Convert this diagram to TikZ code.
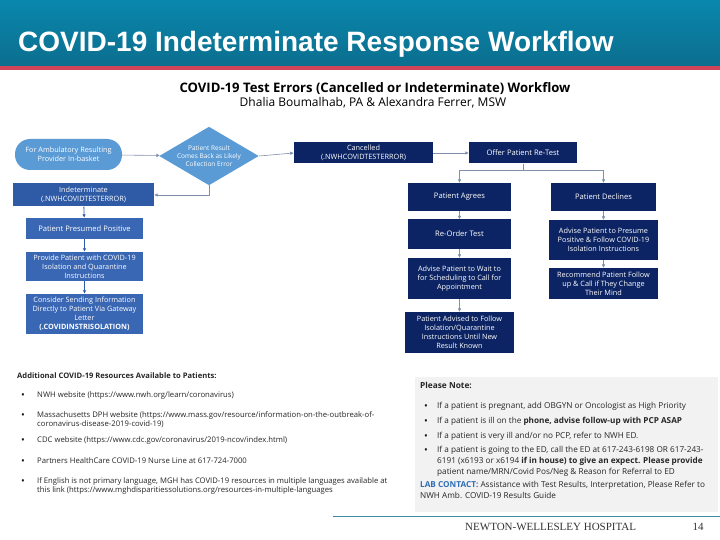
\documentclass[tikz,border=0pt]{standalone}
\usepackage{fontspec}
\setmainfont{Open Sans}
\newfontfamily\arialfont{Liberation Sans}
\newfontfamily\timesfont{Liberation Serif}
\usetikzlibrary{arrows.meta, shapes.geometric}

\definecolor{navy}{HTML}{0C2463}
\definecolor{midblue}{HTML}{3A67B4}
\definecolor{indblue}{HTML}{2F5BA6}
\definecolor{lightblue}{HTML}{5B9BD5}
\definecolor{linegray}{HTML}{8090AC}
\definecolor{tealtop}{HTML}{0A87AD}
\definecolor{tealbot}{HTML}{0B6E8E}
\definecolor{barred}{HTML}{CF4457}
\definecolor{notegray}{HTML}{F2F2F2}
\definecolor{labblue}{HTML}{2E6EB5}

\begin{document}
\begin{tikzpicture}[
    x=1pt, y=-1pt,
    % Box Styles
    box/.style={
        rectangle, inner sep=1pt, align=center, text=white,
        font=\fontsize{7.6}{9}\selectfont
    },
    navybox/.style={box, fill=navy},
    bluebox/.style={box, fill=midblue},
    oval/.style={box, fill=lightblue, rounded corners=15pt, font=\fontsize{7.3}{9}\selectfont},
    decision/.style={box, diamond, fill=lightblue, inner sep=0pt, aspect=1.7, font=\fontsize{6.5}{8}\selectfont},
    % Text Styles
    restext/.style={anchor=base west, inner sep=0pt, text=black!85, font=\fontsize{7.7}{8}\selectfont},
    notetext/.style={anchor=base west, inner sep=0pt, text=black!85, font=\fontsize{8.2}{9}\selectfont},
    dot/.style={anchor=base, inner sep=0pt, text=black!90, font=\fontsize{10}{10}\selectfont},
    % Arrow Styles
    flowArrow/.style={-{Latex[length=3.5pt, width=3.5pt]}, line width=0.6pt, draw=linegray},
    colArrow/.style={-{Latex[length=3.5pt, width=3.5pt]}, line width=0.8pt, draw=indblue}
]

    \useasboundingbox (0,0) rectangle (720,540);
    \fill[white] (0,0) rectangle (720,540);

    % --- HEADER ---
    \shade[top color=tealtop, bottom color=tealbot] (0,0) rectangle (720,66);
    \fill[barred] (0,66) rectangle (720,70);
    \node[anchor=base west, inner sep=0pt, text=white, font=\arialfont\bfseries\fontsize{28}{32}\selectfont] (title) at (18,52) {COVID-19 Indeterminate Response Workflow};

    \node[inner sep=0pt, font=\bfseries\fontsize{13.1}{15}\selectfont] (subtitle) at (375,89) {COVID-19 Test Errors (Cancelled or Indeterminate) Workflow};
    \node[inner sep=0pt, font=\fontsize{12}{14}\selectfont] (authors) at (373,103) {Dhalia Boumalhab, PA \& Alexandra Ferrer, MSW};

    % --- TOP ROW ---
    \node[oval, minimum width=107pt, minimum height=31pt] (inbox) at (68.5,154.5) {For Ambulatory Resulting\\Provider In-basket};
    \node[decision, minimum width=82pt, minimum height=48pt] (result) at (209,156) {Patient Result\\Comes Back as Likely\\Collection Error};
    \node[navybox, minimum width=139pt, minimum height=21pt, font=\fontsize{7.3}{9}\selectfont] (cancel) at (363.5,153) {Cancelled\\(.NWHCOVIDTESTERROR)};
    \node[navybox, minimum width=108pt, minimum height=21pt] (offer) at (523,153) {Offer Patient Re-Test};

    % --- INDETERMINATE COLUMN ---
    \node[box, fill=indblue, minimum width=141pt, minimum height=23pt, font=\fontsize{7.3}{9}\selectfont] (indet) at (83.5,195) {Indeterminate\\(.NWHCOVIDTESTERROR)};
    \node[bluebox, minimum width=117pt, minimum height=21pt] (presumed) at (84.5,228.5) {Patient Presumed Positive};
    \node[bluebox, minimum width=117pt, minimum height=29pt, font=\fontsize{7.3}{9}\selectfont] (provide) at (84.5,266.5) {Provide Patient with COVID-19\\Isolation and Quarantine\\Instructions};
    \node[bluebox, minimum width=117pt, minimum height=40pt, font=\fontsize{7.3}{9}\selectfont] (gateway) at (84.5,314) {Consider Sending Information\\Directly to Patient Via Gateway\\Letter\\\textbf{(.COVIDINSTRISOLATION)}};

    % --- RE-TEST COLUMNS ---
    \node[navybox, minimum width=103pt, minimum height=28pt] (agree) at (459.5,197) {Patient Agrees};
    \node[navybox, minimum width=103pt, minimum height=29pt] (reorder) at (459.5,234) {Re-Order Test};
    \node[navybox, minimum width=103pt, minimum height=41pt, font=\fontsize{7.3}{9}\selectfont] (wait) at (459.5,278.5) {Advise Patient to Wait to\\for Scheduling to Call for\\Appointment};
    \node[navybox, minimum width=109pt, minimum height=41pt, font=\fontsize{7.3}{9}\selectfont] (isolate) at (459.5,332.5) {Patient Advised to Follow\\Isolation/Quarantine\\Instructions Until New\\Result Known};

    \node[navybox, minimum width=105pt, minimum height=28pt] (decline) at (603.5,197) {Patient Declines};
    \node[navybox, minimum width=109pt, minimum height=40pt, font=\fontsize{7.3}{9}\selectfont] (presume) at (603.5,240) {Advise Patient to Presume\\Positive \& Follow COVID-19\\Isolation Instructions};
    \node[navybox, minimum width=109pt, minimum height=31pt, font=\fontsize{7.3}{9}\selectfont] (recommend) at (603.5,283.5) {Recommend Patient Follow\\up \& Call if They Change\\Their Mind};

    % --- ARROWS ---
    \draw[flowArrow] (inbox) -- (result);
    \draw[flowArrow] (result.east) -- (cancel.west);
    \draw[flowArrow] (cancel) -- (offer);
    \draw[flowArrow] (result.south) |- (indet.east);

    \coordinate (branch) at ([yshift=-7pt]offer.south);
    \draw[flowArrow, -] (offer.south) -- (branch);
    \draw[flowArrow] (branch) -| (agree.north);
    \draw[flowArrow] (branch) -| (decline.north);

    \draw[colArrow] (indet) -- (presumed);
    \draw[colArrow] (presumed) -- (provide);
    \draw[colArrow] (provide) -- (gateway);

    \draw[flowArrow] (agree) -- (reorder);
    \draw[flowArrow] (reorder) -- (wait);
    \draw[flowArrow] (wait) -- (isolate);
    \draw[flowArrow] (decline) -- (presume);
    \draw[flowArrow] (presume) -- (recommend);

    % --- RESOURCES ---
    \node[restext, font=\bfseries\fontsize{7.6}{8}\selectfont] (resHead) at (17,378) {Additional COVID-19 Resources Available to Patients:};
    \node[dot] (b1) at (23,398) {\textbullet};
    \node[restext] (r1) at (37,397) {NWH website (https://www.nwh.org/learn/coronavirus)};
    \node[dot] (b2) at (23,418) {\textbullet};
    \node[restext] (r2) at (37,417) {Massachusetts DPH website (https://www.mass.gov/resource/information-on-the-outbreak-of-};
    \node[restext] (r2b) at (37,426) {coronavirus-disease-2019-covid-19)};
    \node[dot] (b3) at (23,443) {\textbullet};
    \node[restext] (r3) at (37,442) {CDC website (https://www.cdc.gov/coronavirus/2019-ncov/index.html)};
    \node[dot] (b4) at (23,464) {\textbullet};
    \node[restext] (r4) at (37,463) {Partners HealthCare COVID-19 Nurse Line at 617-724-7000};
    \node[dot] (b5) at (23,484) {\textbullet};
    \node[restext] (r5) at (37,483) {If English is not primary language, MGH has COVID-19 resources in multiple languages available at};
    \node[restext] (r5b) at (37,492) {this link (https://www.mghdisparitiessolutions.org/resources-in-multiple-languages};

    % --- PLEASE NOTE ---
    \fill[notegray] (415,377) rectangle (718,512);
    \node[notetext, font=\bfseries\fontsize{8.3}{9}\selectfont] (noteHead) at (420,388) {Please Note:};
    \node[dot] (n1b) at (426,409) {\textbullet};
    \node[notetext] (n1) at (437,408) {If a patient is pregnant, add OBGYN or Oncologist as High Priority};
    \node[dot] (n2b) at (426,424) {\textbullet};
    \node[notetext] (n2) at (437,423) {If a patient is ill on the \textbf{phone, advise follow-up with PCP ASAP}};
    \node[dot] (n3b) at (426,439) {\textbullet};
    \node[notetext] (n3) at (437,438) {If a patient is very ill and/or no PCP, refer to NWH ED.};
    \node[dot] (n4b) at (426,453) {\textbullet};
    \node[notetext] (n4) at (437,452) {If a patient is going to the ED, call the ED at 617-243-6198 OR 617-243-};
    \node[notetext] (n4c) at (437,463) {6191 (x6193 or x6194 \textbf{if in house) to give an expect. Please provide}};
    \node[notetext] (n4d) at (437,474) {patient name/MRN/Covid Pos/Neg \& Reason for Referral to ED};
    \node[notetext] (lab) at (420,487) {\textcolor{labblue}{\textbf{LAB CONTACT:}} Assistance with Test Results, Interpretation, Please Refer to};
    \node[notetext] (labb) at (420,498) {NWH Amb. COVID-19 Results Guide};

    % --- FOOTER ---
    \draw[tealbot!80, line width=1pt] (333,516) -- (720,516);
    \node[anchor=base west, inner sep=0pt, text=black!80, font=\timesfont\fontsize{11}{13}\selectfont] (hospital) at (465,530) {NEWTON-WELLESLEY HOSPITAL};
    \node[anchor=base, inner sep=0pt, text=black!80, font=\timesfont\fontsize{11}{13}\selectfont] (page) at (698,530) {14};

\end{tikzpicture}
\end{document}
